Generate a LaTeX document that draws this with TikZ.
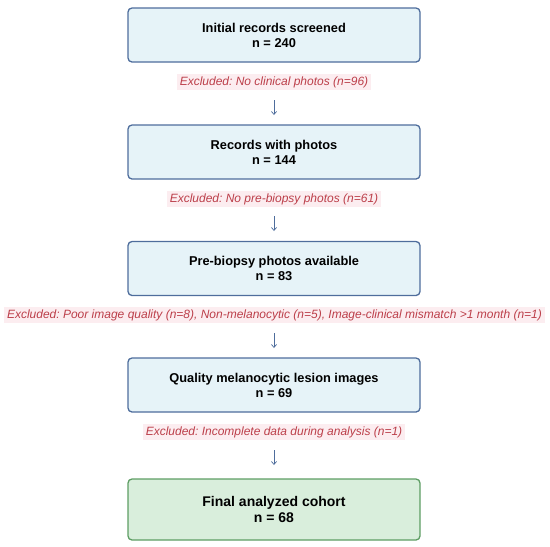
\documentclass[tikz,border=0pt]{standalone}
\usepackage{fontspec}
\setmainfont{Liberation Sans}
\usetikzlibrary{arrows.meta}
\definecolor{boxfill}{HTML}{E6F3F8}
\definecolor{boxdraw}{HTML}{4E6D9C}
\definecolor{finfill}{HTML}{D9EEDC}
\definecolor{findraw}{HTML}{5E9E64}
\definecolor{extext}{HTML}{BC3F4A}
\definecolor{exfill}{HTML}{FCEDF0}
\definecolor{arrcol}{HTML}{4E6D9C}
\tikzset{
  stagebox/.style={draw=boxdraw, fill=boxfill, line width=1.3pt, rounded corners=4pt,
    minimum width=292pt, minimum height=54pt, align=center, inner sep=0pt,
    font=\fontsize{12.8}{15}\selectfont\bfseries},
  finalbox/.style={stagebox, draw=findraw, fill=finfill, minimum height=61pt,
    font=\fontsize{14}{15.5}\selectfont\bfseries},
  exclabel/.style={fill=exfill, text=extext, inner xsep=3pt, inner ysep=2pt,
    font=\fontsize{12}{14}\selectfont\itshape},
  flowarrow/.style={draw=arrcol, line width=0.7pt, -{Straight Barb[length=3pt,width=5pt]}}
}
\frenchspacing
\begin{document}
\begin{tikzpicture}[x=1pt,y=1pt]
\useasboundingbox (0,0) rectangle (550,-547);
\node[stagebox] (b1) at (274,-35) {Initial records screened\\n = 240};
\node[stagebox] (b2) at (274,-152) {Records with photos\\n = 144};
\node[stagebox] (b3) at (274,-268.5) {Pre-biopsy photos available\\n = 83};
\node[stagebox] (b4) at (274,-385) {Quality melanocytic lesion images\\n = 69};
\node[finalbox] (b5) at (274,-509.5) {Final analyzed cohort\\n = 68};
\node[exclabel] (e1) at (274,-82) {\frenchspacing Excluded: No clinical photos (n=96)};
\node[exclabel] (e2) at (274,-199) {\frenchspacing Excluded: No pre-biopsy photos (n=61)};
\node[exclabel] (e3) at (274.5,-315) {\frenchspacing Excluded: Poor image quality (n=8), Non-melanocytic (n=5), Image-clinical mismatch >1 month (n=1)};
\node[exclabel] (e4) at (274,-432) {\frenchspacing Excluded: Incomplete data during analysis (n=1)};
\coordinate (a1s) at (274,-100); \coordinate (a1e) at (274,-115);
\coordinate (a2s) at (274,-216); \coordinate (a2e) at (274,-231);
\coordinate (a3s) at (274,-333); \coordinate (a3e) at (274,-348);
\coordinate (a4s) at (274,-450); \coordinate (a4e) at (274,-465);
\draw[flowarrow] (a1s) -- (a1e);
\draw[flowarrow] (a2s) -- (a2e);
\draw[flowarrow] (a3s) -- (a3e);
\draw[flowarrow] (a4s) -- (a4e);
\end{tikzpicture}
\end{document}
